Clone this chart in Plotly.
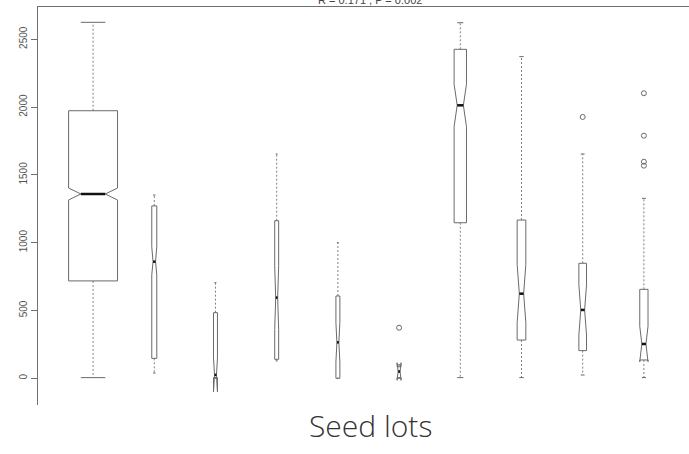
import math
import plotly.graph_objects as go

# Germination values per seed lot (five-number summaries + notch limits)
lots = [1, 2, 3, 4, 5, 6, 7, 8, 9, 10]
whisker_low = [5, 39, 0, 128, 0, 0, 5, 5, 24, 5]
q1 = [718, 147, 5, 140, 0, 5, 1147, 282, 204, 135]
median = [1359, 860, 25, 595, 265, 50, 2013, 624, 504, 253]
q3 = [1973, 1271, 484, 1162, 607, 85, 2426, 1167, 848, 656]
whisker_high = [2625, 1351, 705, 1654, 1000, 100, 2622, 2372, 1654, 1327]
notch_low = [1315, 762, -100, 360, 120, -15, 1855, 410, 319, 122]
notch_high = [1403, 970, 150, 830, 410, 115, 2168, 840, 689, 384]
sample_size = [2000, 21, 13, 13, 13, 13, 128, 63, 49, 57]

outlier_lot = [6, 9, 10, 10, 10, 10]
outlier_value = [373, 1927, 2102, 1789, 1597, 1568]

y_ticks = [0, 500, 1000, 1500, 2000, 2500]
title_text = "R = 0.171 , P = 0.002"
x_title = "Seed lots"

BOX_COLOR = "#6a6a6a"
WHISKER_COLOR = "#808080"
AXIS_COLOR = "#707070"

# box half-widths proportional to sqrt(n), widest box = 0.8
n_max = max(sample_size)
half_w = [0.4 * math.sqrt(n / n_max) for n in sample_size]

box_x, box_y = [], []
wh_x, wh_y = [], []
st_x, st_y = [], []
md_x, md_y = [], []
for i, x in enumerate(lots):
    w = half_w[i]
    box_x += [x - w, x - w, x - w / 2, x - w, x - w, x + w, x + w, x + w / 2, x + w, x + w, x - w, None]
    box_y += [q1[i], notch_low[i], median[i], notch_high[i], q3[i],
              q3[i], notch_high[i], median[i], notch_low[i], q1[i], q1[i], None]
    wh_x += [x, x, None, x, x, None]
    wh_y += [q3[i], whisker_high[i], None, q1[i], whisker_low[i], None]
    st_x += [x - w / 2, x + w / 2, None, x - w / 2, x + w / 2, None]
    st_y += [whisker_high[i], whisker_high[i], None, whisker_low[i], whisker_low[i], None]
    md_x += [x - w / 2, x + w / 2, None]
    md_y += [median[i], median[i], None]

fig = go.Figure()
fig.add_trace(go.Scatter(x=wh_x, y=wh_y, mode="lines",
                         line=dict(color=WHISKER_COLOR, width=1, dash="2px,2px")))
fig.add_trace(go.Scatter(x=st_x, y=st_y, mode="lines",
                         line=dict(color=BOX_COLOR, width=1)))
fig.add_trace(go.Scatter(x=box_x, y=box_y, mode="lines",
                         line=dict(color=BOX_COLOR, width=1)))
fig.add_trace(go.Scatter(x=md_x, y=md_y, mode="lines",
                         line=dict(color="#111111", width=2.5)))
fig.add_trace(go.Scatter(x=outlier_lot, y=outlier_value, mode="markers",
                         marker=dict(symbol="circle-open", size=5,
                                     color=BOX_COLOR, line=dict(width=1))))

fig.update_layout(
    width=689, height=454,
    margin=dict(l=38, r=0, t=7, b=49),
    paper_bgcolor="white", plot_bgcolor="white",
    showlegend=False,
    xaxis=dict(range=[0.1, 10.737], side="top", showline=True, linecolor=AXIS_COLOR,
               linewidth=1, showticklabels=False, ticks="", showgrid=False,
               zeroline=False, fixedrange=True),
    yaxis=dict(range=[-197, 2738], tickvals=y_ticks, ticks="outside", ticklen=6,
               tickcolor=AXIS_COLOR, showline=True, linecolor=AXIS_COLOR, linewidth=1,
               tickangle=-90, showgrid=False, zeroline=False,
               tickfont=dict(family="Liberation Sans, Arial", size=10, color="#555555")),
    annotations=[
        dict(text=title_text, xref="paper", yref="paper", x=0.51, y=0.9975,
             xanchor="center", yanchor="bottom", showarrow=False,
             font=dict(family="Liberation Sans, Arial", size=11, color="#444444")),
        dict(text=x_title, xref="paper", yref="paper", x=0.51, y=-0.052,
             xanchor="center", yanchor="middle", showarrow=False,
             font=dict(family="Open Sans", size=30, color="#333333", weight=300)),
    ],
)

fig.write_html("out.html")
